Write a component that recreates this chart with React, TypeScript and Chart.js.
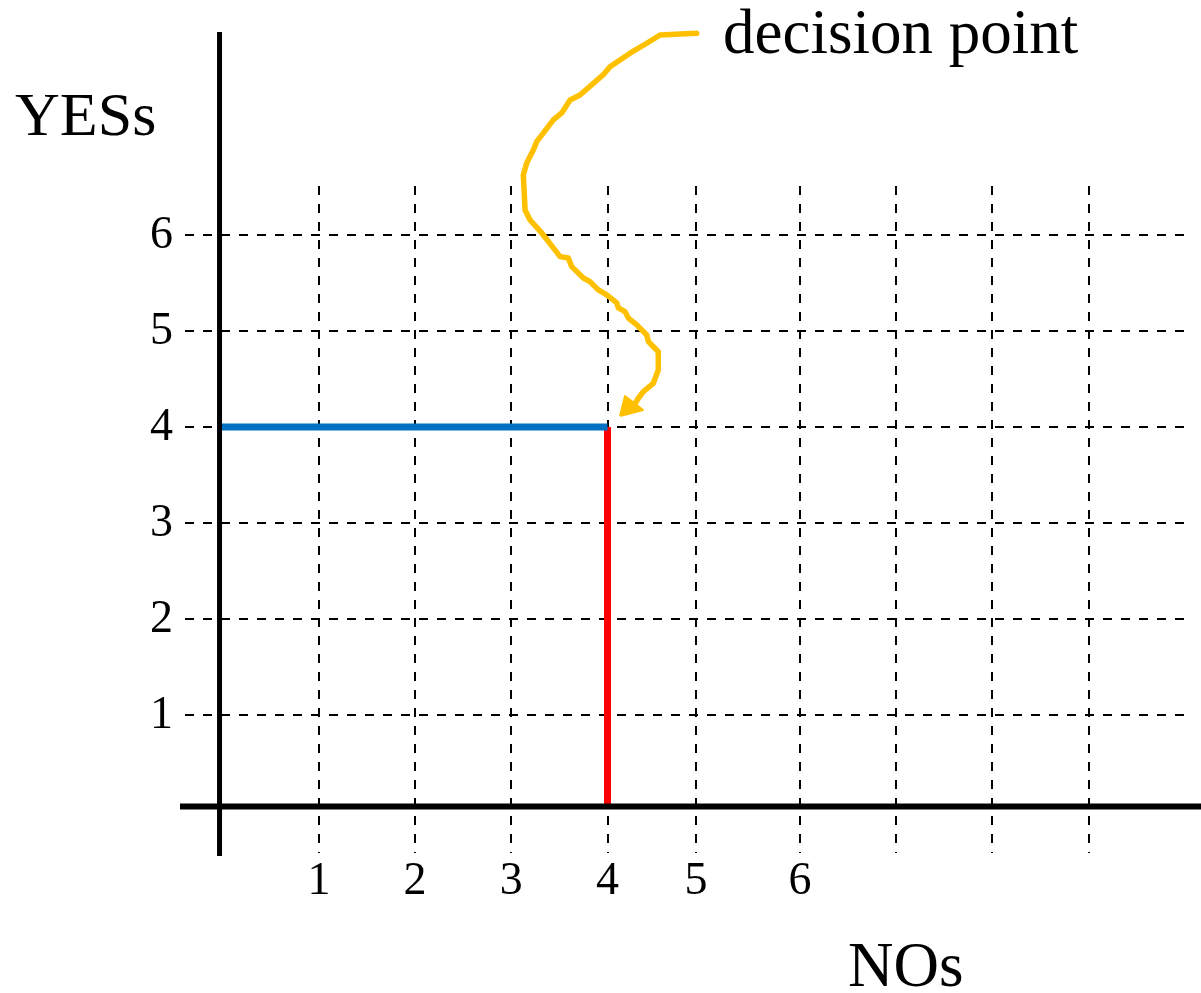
import React, { useEffect, useRef } from "react";
import { Chart, registerables } from "chart.js";

Chart.register(...registerables);

// Grid / tick positions (data units)
const xTickValues = [1, 2, 3, 4, 4.92, 6, 7, 8, 9];
const xTickLabels = ["1", "2", "3", "4", "5", "6", "", "", ""];
const yTickValues = [1, 2, 3, 4, 5, 6];
const yTickLabels = ["1", "2", "3", "4", "5", "6"];

// Axis lines (data units)
const yAxisLineX = [-0.033, -0.033];
const yAxisLineY = [8.115, -0.469];
const xAxisLineX = [-0.444, 10.17];
const xAxisLineY = [0.047, 0.047];

// YES path (blue) and NO path (red)
const yesPathX = [-0.049, 4];
const yesPathY = [4, 4];
const noPathX = [4, 4];
const noPathY = [4, 0.05];

// Hand-drawn arrow curve toward the decision point
const arrowX = [4.927, 4.546, 4.408, 4.234, 4.026, 3.954, 3.714, 3.611, 3.524, 3.437, 3.264, 3.229, 3.16, 3.125, 3.143, 3.195, 3.316, 3.437, 3.507, 3.593, 3.628, 3.749, 3.818, 3.905, 3.992, 4.096, 4.113, 4.182, 4.217, 4.304, 4.408, 4.425, 4.528, 4.528, 4.476, 4.372, 4.32, 4.266];
const arrowY = [8.101, 8.083, 7.997, 7.893, 7.753, 7.667, 7.458, 7.406, 7.271, 7.198, 6.972, 6.885, 6.75, 6.625, 6.26, 6.156, 6.021, 5.865, 5.774, 5.76, 5.67, 5.552, 5.514, 5.427, 5.375, 5.292, 5.24, 5.201, 5.135, 5.063, 4.958, 4.889, 4.784, 4.594, 4.455, 4.368, 4.299, 4.208];
const headX = [4.13, 4.182, 4.369, 4.13];
const headY = [4.115, 4.323, 4.177, 4.115];

const yTitle = "YESs";
const xTitle = "NOs";
const annotationText = "decision point";

const SERIF = "'Liberation Serif', 'Times New Roman', serif";

const zip = (xs: number[], ys: number[]) => xs.map((x, i) => ({ x, y: ys[i] }));

const textPlugin = {
  id: "texts",
  afterDraw(chart: any) {
    const ctx = chart.ctx;
    ctx.save();
    ctx.fillStyle = "#000";
    ctx.textAlign = "left";
    ctx.textBaseline = "alphabetic";
    ctx.font = `62px ${SERIF}`;
    ctx.fillText(yTitle, 15, 135);
    ctx.font = `63px ${SERIF}`;
    ctx.fillText(annotationText, 723, 53);
    ctx.font = `63px ${SERIF}`;
    ctx.fillText(xTitle, 848, 986);
    ctx.restore();
  },
};

export default function App() {
  const ref = useRef<HTMLCanvasElement | null>(null);
  useEffect(() => {
    if (!ref.current) return;
    const line = (data: any[], color: string, width: number, extra: any = {}) => ({
      data,
      borderColor: color,
      backgroundColor: color,
      borderWidth: width,
      pointRadius: 0,
      tension: 0,
      clip: false,
      fill: false,
      ...extra,
    });
    const chart = new Chart(ref.current, {
      type: "line",
      data: {
        datasets: [
          line(zip(yAxisLineX, yAxisLineY), "#000000", 5),
          line(zip(xAxisLineX, xAxisLineY), "#000000", 6),
          line(zip(yesPathX, yesPathY), "#0070C0", 7),
          line(zip(noPathX, noPathY), "#FF0000", 7),
          line(zip(arrowX, arrowY), "#FFC000", 5.5, { borderJoinStyle: "round", borderCapStyle: "round" }),
          line(zip(headX, headY), "#FFC000", 2, { fill: "shape", borderJoinStyle: "round" }),
        ] as any,
      },
      plugins: [textPlugin],
      options: {
        responsive: false,
        animation: false,
        events: [],
        layout: { padding: { top: 186, right: 11, left: 0, bottom: 0 } },
        plugins: { legend: { display: false }, tooltip: { enabled: false }, title: { display: false } },
        scales: {
          x: {
            type: "linear",
            min: -0.392,
            max: 10.055,
            afterFit: (s: any) => {
              s.height = 140;
            },
            afterBuildTicks: (s: any) => {
              s.ticks = xTickValues.map((v) => ({ value: v }));
            },
            border: { display: false, dash: [9, 9] },
            grid: { color: "#000", lineWidth: 2, drawTicks: false },
            ticks: {
              color: "#000",
              padding: 1,
              autoSkip: false,
              maxRotation: 0,
              font: { family: SERIF, size: 46 },
              callback: (_v: any, i: number) => xTickLabels[i],
            },
          },
          y: {
            type: "linear",
            min: -0.4375,
            max: 6.51,
            afterFit: (s: any) => {
              s.width = 185;
            },
            afterBuildTicks: (s: any) => {
              s.ticks = yTickValues.map((v) => ({ value: v }));
            },
            border: { display: false, dash: [9, 9] },
            grid: { color: "#000", lineWidth: 2, drawTicks: false },
            ticks: {
              color: "#000",
              padding: 12,
              autoSkip: false,
              labelOffset: 1,
              font: { family: SERIF, size: 46 },
              callback: (_v: any, i: number) => yTickLabels[i],
            },
          },
        },
      } as any,
    });
    return () => chart.destroy();
  }, []);
  return (
    <div style={{ position: "fixed", left: 0, top: 0, width: 1201, height: 993, background: "#fff" }}>
      <canvas ref={ref} width={1201} height={993} style={{ display: "block" }} />
    </div>
  );
}
